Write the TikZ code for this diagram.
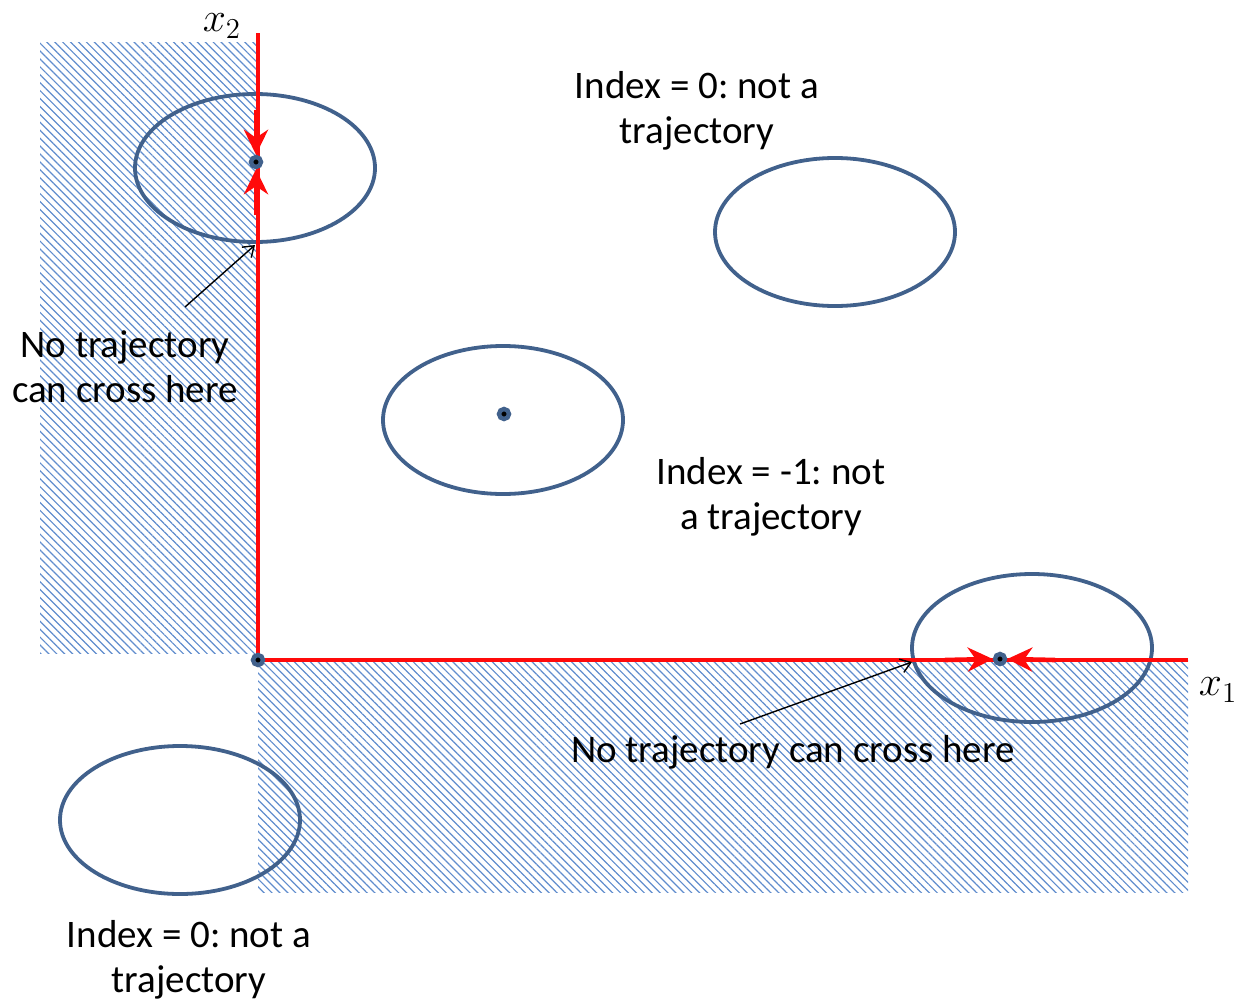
\documentclass[tikz,border=0pt]{standalone}
\usepackage{fontspec}
\setmainfont{Carlito}
\usetikzlibrary{patterns.meta,arrows.meta,shapes.geometric}
\definecolor{orbitblue}{RGB}{65,97,140}
\definecolor{hatchblue}{RGB}{95,140,205}
\definecolor{axisred}{RGB}{255,10,10}
\frenchspacing
\begin{document}
\begin{tikzpicture}[x=0.5pt,y=-0.5pt,
  hatch/.style={pattern={Lines[angle=-45,distance=2.8pt,line width=0.6pt]},pattern color=hatchblue},
  orbit/.style={draw=orbitblue,line width=1.9pt,ellipse,inner sep=0pt,minimum width=120pt,minimum height=74pt},
  eqdot/.style={circle,fill=black,draw=orbitblue,line width=2.2pt,inner sep=0pt,minimum size=5pt},
  axisline/.style={draw=axisred,line width=2.3pt},
  redtip/.style={axisred,line width=2.3pt,-{Stealth[length=12.5pt,width=12pt,inset=4pt]}},
  pointer/.style={draw=black,line width=0.7pt,-{Straight Barb[length=5pt,width=7pt]}},
  lbl/.style={align=center,font=\fontsize{19.5}{22.5}\selectfont,inner sep=0pt},
  axlbl/.style={font=\fontsize{21}{24}\selectfont,inner sep=0pt}
]
\useasboundingbox (0,0) rectangle (1237,1001);
% hatched regions
\fill[hatch] (40,42) rectangle (258,653);
\fill[hatch] (258,660) rectangle (1188,892);
% orbits
\node[orbit] (o1) at (255,168) {};
\node[orbit] (o2) at (835,232) {};
\node[orbit] (o3) at (503,420) {};
\node[orbit] (o4) at (1032,648) {};
\node[orbit] (o5) at (180,820) {};
% axes
\coordinate (ytop) at (258,33);
\coordinate (orig) at (258,660);
\coordinate (xend) at (1188,660);
\draw[axisline] (ytop) -- (orig) -- (xend);
% equilibrium points
\node[eqdot] (d0) at (258,660) {};
\node[eqdot] (d1) at (256,162) {};
\node[eqdot] (d3) at (504,414) {};
\node[eqdot] (d4) at (1000,659) {};
% red arrows on invariant axes
\coordinate (a1s) at (256,110);
\coordinate (a2s) at (256,215);
\coordinate (a3s) at (945,660);
\coordinate (a4s) at (1055,660);
\draw[redtip] (a1s) -- (d1.north);
\draw[redtip] (a2s) -- (d1.south);
\draw[redtip] (a3s) -- (d4.west);
\draw[redtip] (a4s) -- (d4.east);
% axis labels
\node[axlbl] (x2) at (222,26) {$x_2$};
\node[axlbl] (x1) at (1218,690) {$x_1$};
% text labels
\node[lbl] (t1) at (697,111) {Index = 0: not a\\trajectory};
\node[lbl] (t2) at (771,497) {Index = -1: not\\a trajectory};
\node[lbl] (t3) at (189,960) {Index = 0: not a\\trajectory};
\node[lbl] (n1) at (125,367) {No trajectory\\can cross here};
\node[lbl] (n2) at (793,752) {No trajectory can cross here};
% pointers
\coordinate (p1s) at (185,307);
\coordinate (p1e) at (255,245);
\coordinate (p2s) at (740,724);
\coordinate (p2e) at (912,662);
\draw[pointer] (p1s) -- (p1e);
\draw[pointer] (p2s) -- (p2e);
\end{tikzpicture}
\end{document}
